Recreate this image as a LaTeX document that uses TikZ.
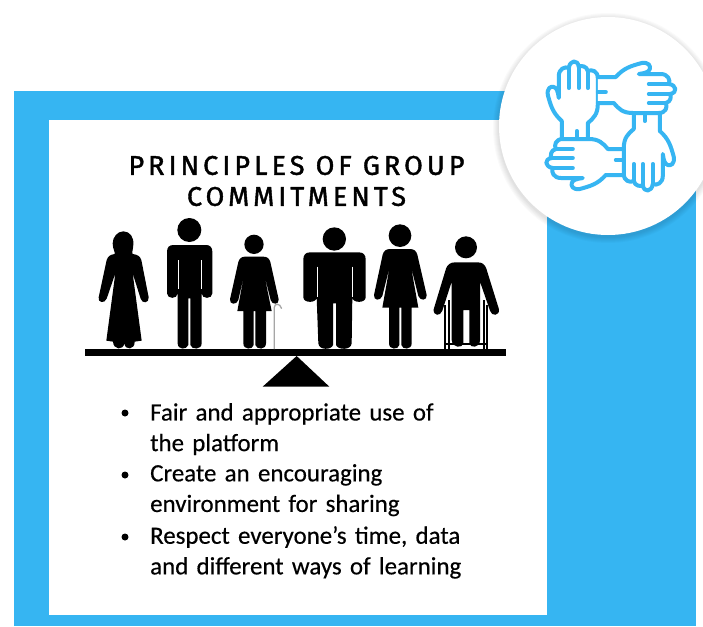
\documentclass[tikz,border=0pt]{standalone}
\usepackage{fontspec}
\setmainfont[FakeBold=0.4,WordSpace=0.75]{Carlito}
\newfontfamily\titlefont[FakeBold=1.5,LetterSpace=15]{Fira Sans}
\definecolor{skyb}{HTML}{36B5F2}
\tikzset{
  panel/.style={fill=#1,draw=none},
  fig/.style={fill=black,draw=none},
  slit/.style={draw=white,line width=0.9pt},
  handline/.style={draw=skyb,line width=4pt,line cap=round,line join=round},
  titletext/.style={font=\titlefont\fontsize{27}{31}\selectfont,align=center,inner sep=0pt,text=black},
  bodytext/.style={font=\fontsize{24.9}{30.6}\selectfont,anchor=north west,inner sep=0pt,text width=340pt,align=left},
  bulletdot/.style={circle,fill=black,minimum size=7pt,inner sep=0pt},
}
\newcommand{\handpath}{%
  \draw[handline,fill=white] (-49,13) -- (-49,-5) .. controls (-58,-13) and (-60,-20) .. (-63,-31)
    .. controls (-64,-38) and (-60,-40) .. (-57,-39) .. controls (-54,-38) and (-53,-35) .. (-52,-28)
    -- (-52,-50) .. controls (-52,-57) and (-46,-60) .. (-42,-58)
    .. controls (-41,-66) and (-33,-67) .. (-32,-59) .. controls (-30,-61) and (-24,-60) .. (-23,-55)
    .. controls (-19,-57) and (-13,-55) .. (-13,-48) -- (-13,-22)
    .. controls (-13,-12) and (-17,-8) .. (-23,-3) -- (-23,13);
  \draw[handline] (-42,-57) -- (-42,-38) (-32,-59) -- (-32,-38) (-23,-55) -- (-23,-38) (-34,5) -- (-34,13);
}
\begin{document}
\begin{tikzpicture}[x=1pt,y=-1pt]
\useasboundingbox (0,0) rectangle (703,626);
\fill[white] (0,0) rectangle (703,626);
\fill[panel=skyb] (14,91) rectangle (696,626);
\fill[panel=white] (49,120) rectangle (547,615);
% soft shadow of the badge
\foreach \r in {115,114,113,112,111,110}{\fill[black,opacity=0.02] (608,128) circle (\r);}
\node[circle,minimum size=218pt,fill=white,inner sep=0pt] (badge) at (608,126) {};
% hands
\begin{scope}[shift={(610.8,126)}]
  \handpath
  \begin{scope}[rotate=90]\handpath\end{scope}
  \begin{scope}[rotate=180]\handpath\end{scope}
  \begin{scope}[rotate=270]\handpath\end{scope}
\end{scope}
% title
\node[titletext] (title) at (296.5,181) {PRINCIPLES OF GROUP\\COMMITMENTS};
% seesaw and left figures (zoom coordinates)
\begin{scope}[shift={(80,210)},scale=1/3]
  \fill[fig] (15,417) rectangle (1278,439);
  \fill[fig] (650,438) -- (548,530) -- (748,530) -- cycle;
  % figure 1
  \fill[fig] (130,64) .. controls (150,64) and (162,82) .. (160,104) .. controls (159,120) and (155,128) .. (158,132)
   .. controls (172,134) and (180,138) .. (184,150) -- (206,262) .. controls (208,280) and (186,282) .. (182,266)
   -- (158,190) -- (185,392) -- (164,395) .. controls (165,420) and (135,422) .. (133,400) .. controls (130,422) and (100,420) .. (99,395)
   -- (79,392) -- (106,190) -- (80,266) .. controls (74,282) and (52,278) .. (56,262)
   -- (80,150) .. controls (84,138) and (92,134) .. (104,132) .. controls (106,125) and (98,118) .. (98,100) .. controls (98,82) and (112,64) .. (130,64) -- cycle;
  % figure 2
  \fill[fig] (328,60) circle (36);
  \fill[fig] (280,105) -- (378,105) .. controls (390,105) and (397,112) .. (397,125) -- (397,250) .. controls (397,268) and (365,268) .. (365,250)
   -- (365,400) .. controls (365,420) and (335,420) .. (331,405) -- (331,265) -- (325,265) -- (325,405) .. controls (320,420) and (293,420) .. (293,400)
   -- (293,250) .. controls (293,268) and (261,268) .. (261,250) -- (261,125) .. controls (261,112) and (268,105) .. (280,105) -- cycle;
  \draw[slit] (295,150) -- (295,236) (364,150) -- (364,236);
  % figure 3
  \fill[fig] (522,103) circle (29);
  \fill[fig] (495,140) -- (550,140) .. controls (562,140) and (568,146) .. (571,156) -- (596,268) .. controls (598,284) and (576,286) .. (572,270)
   -- (552,190) -- (575,303) -- (558,303) -- (558,400) .. controls (558,420) and (530,420) .. (526,405) -- (526,303) -- (521,303) -- (521,405) .. controls (518,420) and (490,420) .. (490,400)
   -- (490,303) -- (472,303) -- (493,190) -- (475,270) .. controls (470,286) and (448,284) .. (450,268) -- (475,156) .. controls (478,146) and (484,140) .. (495,140) -- cycle;
  \draw[draw=gray!70,line width=1.3pt] (583,417) -- (583,292) .. controls (583,280) and (600,278) .. (605,296);
\end{scope}
% right figures
\begin{scope}[shift={(295,210)},scale=1/3]
  % figure 4
  \fill[fig] (118,87) circle (35);
  \fill[fig] (45,127) -- (192,127) .. controls (205,127) and (212,135) .. (212,148) -- (212,262) .. controls (212,280) and (172,280) .. (172,262)
   -- (170,400) .. controls (168,422) and (128,420) .. (123,405) -- (123,280) -- (114,280) -- (114,405) .. controls (110,420) and (72,422) .. (70,400)
   -- (65,262) .. controls (65,280) and (25,280) .. (25,262) -- (25,148) .. controls (25,135) and (32,127) .. (45,127) -- cycle;
  \draw[slit] (66,170) -- (66,262) (171,170) -- (171,262);
  % figure 5
  \fill[fig] (315,77) circle (34);
  \fill[fig] (285,117) -- (345,117) .. controls (358,117) and (364,124) .. (367,134) -- (395,255) .. controls (397,272) and (376,274) .. (370,258)
   -- (348,170) -- (370,293) -- (350,293) -- (350,400) .. controls (350,420) and (322,420) .. (319,405) -- (319,293) -- (313,293) -- (313,405) .. controls (310,420) and (282,420) .. (282,400)
   -- (282,293) -- (262,293) -- (284,170) -- (262,258) .. controls (256,274) and (235,272) .. (237,255) -- (263,134) .. controls (266,124) and (272,117) .. (285,117) -- cycle;
  % figure 6
  \fill[fig] (513,112) circle (33);
  \fill[fig] (480,157) -- (548,157) .. controls (562,157) and (570,164) .. (574,176) -- (612,298) .. controls (614,318) and (590,320) .. (585,302)
   -- (555,215) -- (555,390) .. controls (555,415) and (525,415) .. (523,400) -- (523,300) -- (505,300) -- (505,400) .. controls (503,415) and (472,415) .. (470,390)
   -- (470,215) -- (442,302) .. controls (436,320) and (414,318) .. (416,298) -- (453,176) .. controls (457,164) and (466,157) .. (480,157) -- cycle;
  \draw[black,line width=1.7pt] (450,417) -- (450,285) (577,417) -- (577,285) (461,417) -- (461,270) (566,417) -- (566,270) (450,402) -- (577,402);
\end{scope}
% bullets
\node[bulletdot] (b1) at (125,413) {};
\node[bulletdot] (b2) at (125,475) {};
\node[bulletdot] (b3) at (125,537) {};
\node[bodytext] (t1) at (150,403) {Fair and appropriate use of\\the platform};
\node[bodytext] (t2) at (150,464) {Create an encouraging\\environment for sharing};
\node[bodytext] (t3) at (150,526) {Respect everyone’s time, data\\and different ways of learning};
\end{tikzpicture}
\end{document}
